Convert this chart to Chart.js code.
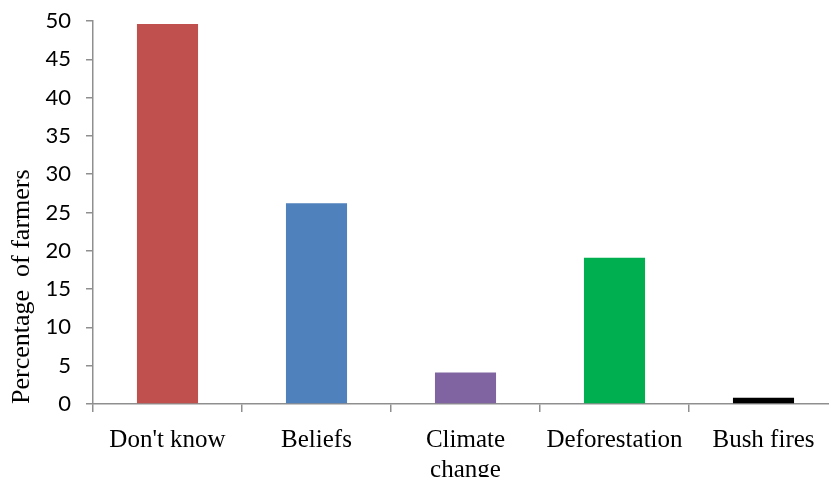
<!DOCTYPE html>
<html>
<head>
<meta charset="utf-8">
<script src="https://cdn.jsdelivr.net/npm/chart.js@4"></script>
<style>
  html, body { margin: 0; padding: 0; background: #fff; overflow: hidden; }
  #wrap { width: 840px; height: 477px; position: relative; }
</style>
</head>
<body>
<div id="wrap"><canvas id="causeChart"></canvas></div>
<script>
// reasons given by farmers
const causes = ["Don't know", "Beliefs", ["Climate", "change"], "Deforestation", "Bush fires"];
const farmerPct = [49.6, 26.2, 4.1, 19.1, 0.8];
const barColours = ["#C0504D", "#4F81BD", "#8064A2", "#00B050", "#000000"];
const yTicks = [0, 5, 10, 15, 20, 25, 30, 35, 40, 45, 50];

const axisGrey = "#8f8f8f";

new Chart(document.getElementById('causeChart'), {
    type: 'bar',
    data: {
        labels: causes,
        datasets: [{
            data: farmerPct,
            backgroundColor: barColours,
            borderWidth: 0,
            barPercentage: 0.41,
            categoryPercentage: 1
        }]
    },
    options: {
        responsive: true,
        maintainAspectRatio: false,
        animation: false,
        layout: { padding: { top: 21, right: 2, left: 0, bottom: 0 } },
        plugins: { legend: { display: false }, tooltip: { enabled: false } },
        scales: {
            x: {
                grid: { display: true, drawOnChartArea: false, offset: true, color: axisGrey, lineWidth: 1.5, tickLength: 8 },
                border: { color: axisGrey, width: 1.5 },
                ticks: {
                    color: '#000',
                    padding: 13,
                    maxRotation: 0,
                    autoSkip: false,
                    font: { family: '"Liberation Serif", "Times New Roman", serif', size: 25, lineHeight: 1.2 }
                },
                afterFit: s => { s.height = 73; }
            },
            y: {
                min: 0, max: 50,
                afterBuildTicks: s => { s.ticks = yTicks.map(v => ({ value: v })); },
                grid: { display: true, drawOnChartArea: false, color: axisGrey, lineWidth: 1.5, tickLength: 7 },
                border: { color: axisGrey, width: 1.5 },
                ticks: {
                    color: '#000',
                    padding: 15,
                    font: { family: 'Lato, "Open Sans", sans-serif', size: 22 }
                },
                title: {
                    display: true,
                    text: 'Percentage  of farmers',
                    align: 'start',
                    color: '#000',
                    padding: { top: 7, bottom: 0 },
                    font: { family: '"Liberation Serif", "Times New Roman", serif', size: 26 }
                },
                // fixed axis width, and no extra room above the top tick
                afterFit: s => { s.width = 93; s.paddingTop = 0; }
            }
        }
    }
});
</script>
</body>
</html>
